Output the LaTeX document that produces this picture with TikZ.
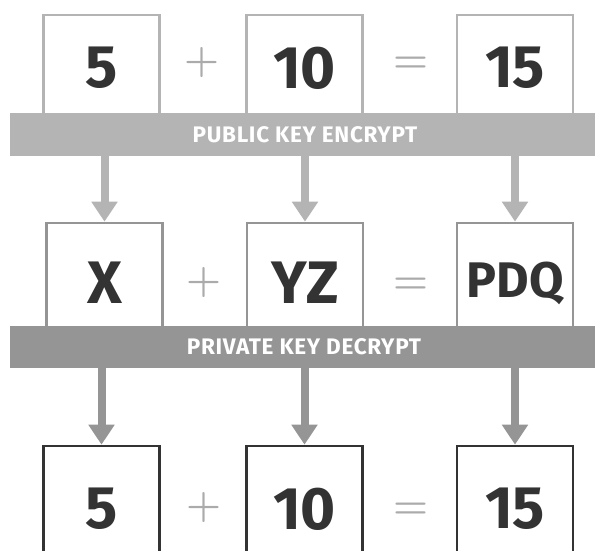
\documentclass[tikz,border=0pt]{standalone}
\usepackage{fontspec}
\setmainfont{Fira Sans}
\newfontfamily\opfont{Latin Modern Roman}
\newfontfamily\bandfont[LetterSpace=3]{Fira Sans}
\usetikzlibrary{arrows.meta}
\definecolor{gtop}{HTML}{B4B4B4}
\definecolor{gmid}{HTML}{959595}
\definecolor{gdark}{HTML}{333333}
\definecolor{gop}{HTML}{ABABAB}
\begin{document}
\begin{tikzpicture}[x=1pt,y=-1pt,
  numbox/.style={draw, fill=white, line width=2.6pt, inner sep=0pt, minimum width=116pt,
    text=gdark, font=\fontsize{60}{60}\selectfont\bfseries},
  topbox/.style={numbox, draw=gtop, minimum height=106pt},
  midbox/.style={numbox, draw=gmid, minimum height=120pt},
  botbox/.style={numbox, draw=gdark, minimum height=126pt},
  band/.style={inner sep=0pt, anchor=north west, minimum width=600pt},
  bandtext/.style={text=white, inner sep=0pt, font=\bandfont\fontsize{22.5}{22.5}\selectfont\bfseries},
  oper/.style={inner sep=0pt, text=gop, font=\opfont\fontsize{40}{40}\selectfont\bfseries},
  arr/.style={line width=8pt, -{Triangle[width=25pt,length=20pt]}},
]
\useasboundingbox[fill=white] (0,0) rectangle (595,551);
% top row
\node[topbox] (t1) at (101.5,68) {5};
\node[topbox] (t2) at (304.5,68) {10};
\node[topbox] (t3) at (515,68) {15};
\node[oper] (tp) at (202,63) {+};
\node[oper] (te) at (411,65) {=};
\node[band, fill=gtop, minimum height=43pt] (b1) at (10,113) {};
\node[bandtext] (b1t) at (305,135) {PUBLIC KEY ENCRYPT};
% middle row
\node[midbox] (m1) at (104.5,283) {X};
\node[midbox] (m2) at (305,283) {YZ};
\node[midbox, font=\fontsize{50}{50}\selectfont\bfseries] (m3) at (515,283) {PDQ};
\node[oper] (mp) at (204,283) {+};
\node[oper] (me) at (411,286) {=};
\node[band, fill=gmid, minimum height=42pt] (b2) at (10,326) {};
\node[bandtext] (b2t) at (304,347) {PRIVATE KEY DECRYPT};
% bottom row
\node[botbox] (r1) at (101.5,509) {5};
\node[botbox] (r2) at (304.5,509) {10};
\node[botbox] (r3) at (515,509) {15};
\node[oper] (rp) at (204,508) {+};
\node[oper] (re) at (411,511) {=};
% arrows
\draw[arr, gtop] (m1.north |- b1.south) -- (m1.north);
\draw[arr, gtop] (m2.north |- b1.south) -- (m2.north);
\draw[arr, gtop] (m3.north |- b1.south) -- (m3.north);
\draw[arr, gmid] (r1.north |- b2.south) -- (r1.north);
\draw[arr, gmid] (r2.north |- b2.south) -- (r2.north);
\draw[arr, gmid] (r3.north |- b2.south) -- (r3.north);
\end{tikzpicture}
\end{document}
